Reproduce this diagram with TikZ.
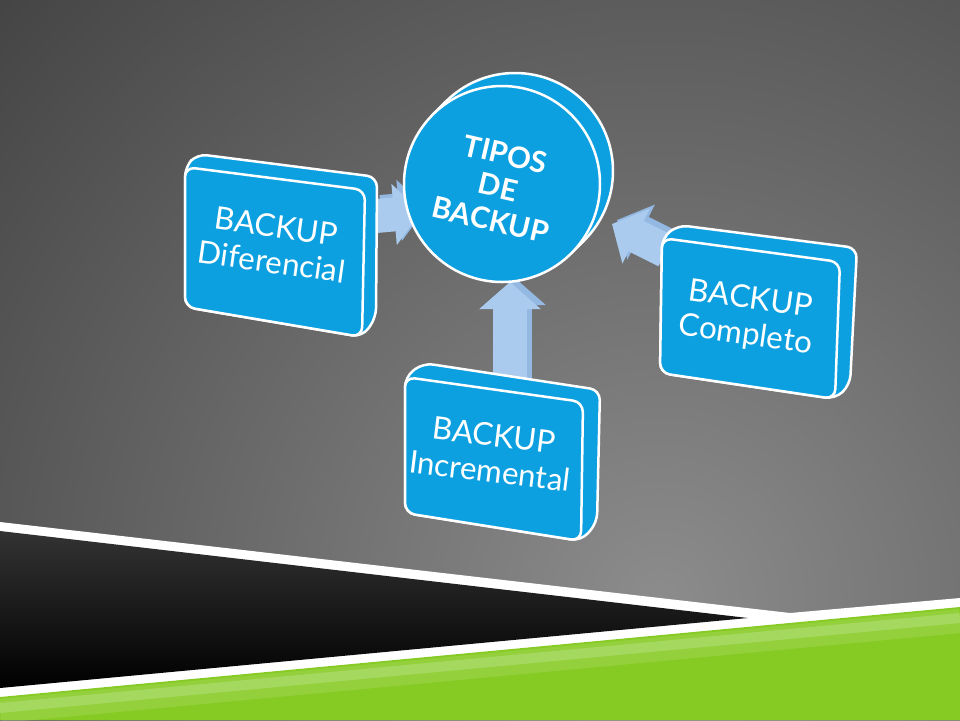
\documentclass[tikz,border=0pt]{standalone}
\usepackage{fontspec}
\setmainfont{Lato}
\usetikzlibrary{arrows.meta}
\definecolor{bkblue}{HTML}{0CA0E0}
\definecolor{arrblue}{HTML}{ABCBEE}
\definecolor{arrside}{HTML}{93B8E2}
\definecolor{bglight}{HTML}{8C8C8C}
\definecolor{bgdark}{HTML}{303030}
\definecolor{grass}{HTML}{86CB24}
\definecolor{grasslight}{HTML}{C8E8A0}
\begin{document}
\begin{tikzpicture}[x=0.1mm, y=-0.1mm,
    block/.style={fill=bkblue, draw=white, line width=0.25mm, rounded corners=1mm, line join=round},
    boxtext/.style={text=white, align=center, font=\fontsize{8.9}{10.2}\selectfont},
    link/.style={line width=3.4mm, -{Triangle[length=2.7mm, width=6mm]}}]
    \useasboundingbox (0,0) rectangle (960,720);
    \clip (0,0) rectangle (960,720);

    \shade[inner color=bglight, outer color=bgdark] (660,600) circle[radius=1150];
    \fill[white] (0,522) -- (790,613) -- (960,598) -- (960,720) -- (0,720) -- cycle;
    \shade[top color=black!80, bottom color=black] (0,531) -- (748,618) -- (0,688) -- cycle;
    \fill[grass] (0,697) -- (960,607) -- (960,720) -- (0,720) -- cycle;
    \draw[grasslight, line width=2.4mm, opacity=.2] (0,711) -- (960,621);
    \draw[grasslight, line width=1mm, opacity=.35] (0,708) -- (960,618);

    \coordinate (difout) at (376,216);
    \coordinate (difin) at (421,212);
    \coordinate (incout) at (510,382);
    \coordinate (incin) at (510,282);
    \coordinate (compout) at (666,251);
    \coordinate (compin) at (612,224);
    \foreach \a/\b in {difout/difin, incout/incin, compout/compin}{
        \draw[link, arrside, transform canvas={shift={(0.5mm,0.4mm)}}] (\a) -- (\b);
        \draw[link, arrblue] (\a) -- (\b);
    }

    \fill[block] (185,167) -- (197,154) -- (377,177) -- (376,318) -- (362,337) -- (185,307) -- cycle;
    \draw[block] (185,167) -- (365,190) -- (362,337) -- (185,307) -- cycle;
    \node[boxtext, rotate=-8] (dif) at (274,244) {BACKUP\\Diferencial};

    \fill[block] (405,377) -- (423,363) -- (600,390) -- (597,523) -- (581,541) -- (405,513) -- cycle;
    \draw[block] (405,377) -- (583,402) -- (581,541) -- (405,513) -- cycle;
    \node[boxtext, rotate=-7] (inc) at (492,453) {BACKUP\\Incremental};

    \fill[block] (662,238) -- (678,225) -- (857,248) -- (850,385) -- (835,399) -- (660,373) -- cycle;
    \draw[block] (662,238) -- (840,262) -- (835,399) -- (660,373) -- cycle;
    \node[boxtext, rotate=-8] (comp) at (748,318) {BACKUP\\Completo};

    \draw[block] (515,171) circle[radius=98];
    \fill[bkblue] (432.7,114.7) -- (445.7,101.7) -- (584.3,240.3) -- (571.3,253.3) -- cycle;
    \draw[white, line width=0.25mm] (432.7,114.7) -- (445.7,101.7) (584.3,240.3) -- (571.3,253.3);
    \draw[block] (502,184) circle[radius=98];
    \node[boxtext, font=\fontsize{8.4}{9.6}\selectfont\bfseries, rotate=-13] (tipos) at (498,187) {TIPOS\\DE\\BACKUP};
\end{tikzpicture}
\end{document}
